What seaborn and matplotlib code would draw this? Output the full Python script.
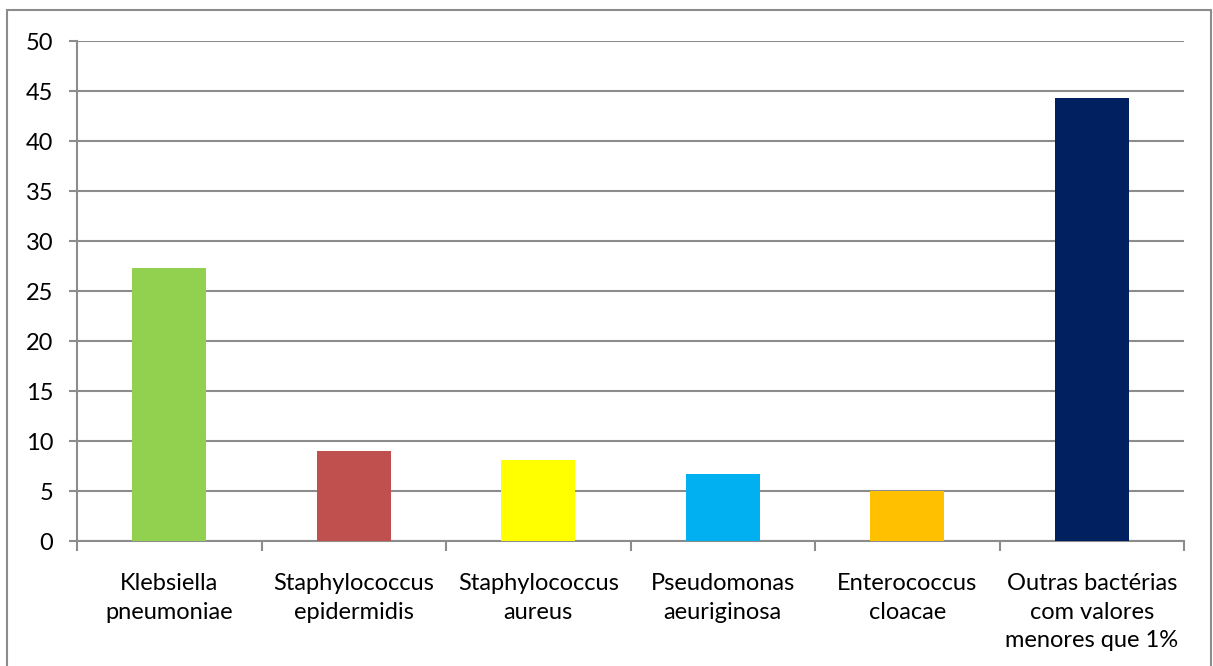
import matplotlib
matplotlib.use("Agg")
import matplotlib.pyplot as plt
from matplotlib.patches import Rectangle
import seaborn as sns
import pandas as pd

categories = [
    "Klebsiella\npneumoniae",
    "Staphylococcus\nepidermidis",
    "Staphylococcus\naureus",
    "Pseudomonas\naeuriginosa",
    "Enterococcus\ncloacae",
    "Outras bactérias\ncom valores\nmenores que 1%",
]
values = [27.3, 9.0, 8.1, 6.7, 5.0, 44.3]
colors = ["#92D050", "#C0504D", "#FFFF00", "#00B0F0", "#FFC000", "#002060"]
y_ticks = [0, 5, 10, 15, 20, 25, 30, 35, 40, 45, 50]

sns.set_theme(style="white")
plt.rcParams["font.family"] = ["Lato", "DejaVu Sans"]

W, H = 1213, 666
fig = plt.figure(figsize=(W / 100, H / 100), dpi=100)
ax = fig.add_axes([77 / W, (H - 541) / H, (1184 - 77) / W, 500 / H])

df = pd.DataFrame({"cat": categories, "val": values})
sns.barplot(data=df, x="cat", y="val", hue="cat", palette=colors,
            width=0.4, legend=False, ax=ax, saturation=1, zorder=3,
            linewidth=0)

grid_c = "#8C8C8C"
ax.set_ylim(0, 50)
ax.set_xlim(-0.5, len(categories) - 0.5)
ax.set_yticks(y_ticks)
ax.yaxis.grid(True, color=grid_c, linewidth=1.5, zorder=0)
ax.set_axisbelow(True)
ax.set_xlabel("")
ax.set_ylabel("")

for side in ["top", "right"]:
    ax.spines[side].set_visible(False)
for side in ["left", "bottom"]:
    ax.spines[side].set_color(grid_c)
    ax.spines[side].set_linewidth(1.5)

ax.tick_params(axis="y", which="major", direction="out", length=6, width=1.5,
               color=grid_c, labelsize=17, pad=11, labelcolor="black", left=True)
ax.set_xticks(range(len(categories)))
ax.set_xticklabels(categories, fontsize=17, linespacing=1.45)
ax.tick_params(axis="x", which="major", length=0, pad=23, labelcolor="black")
ax.set_xticks([i - 0.5 for i in range(len(categories) + 1)], minor=True)
ax.tick_params(axis="x", which="minor", direction="out", length=7, width=1.5,
               color=grid_c, bottom=True)

# outer chart frame
fig.patches.append(Rectangle((7 / W, -0.01), (1211 - 7) / W, (H - 10) / H + 0.01,
                             transform=fig.transFigure, fill=False,
                             edgecolor=grid_c, linewidth=1.5))

fig.savefig("out.png", dpi=100)
